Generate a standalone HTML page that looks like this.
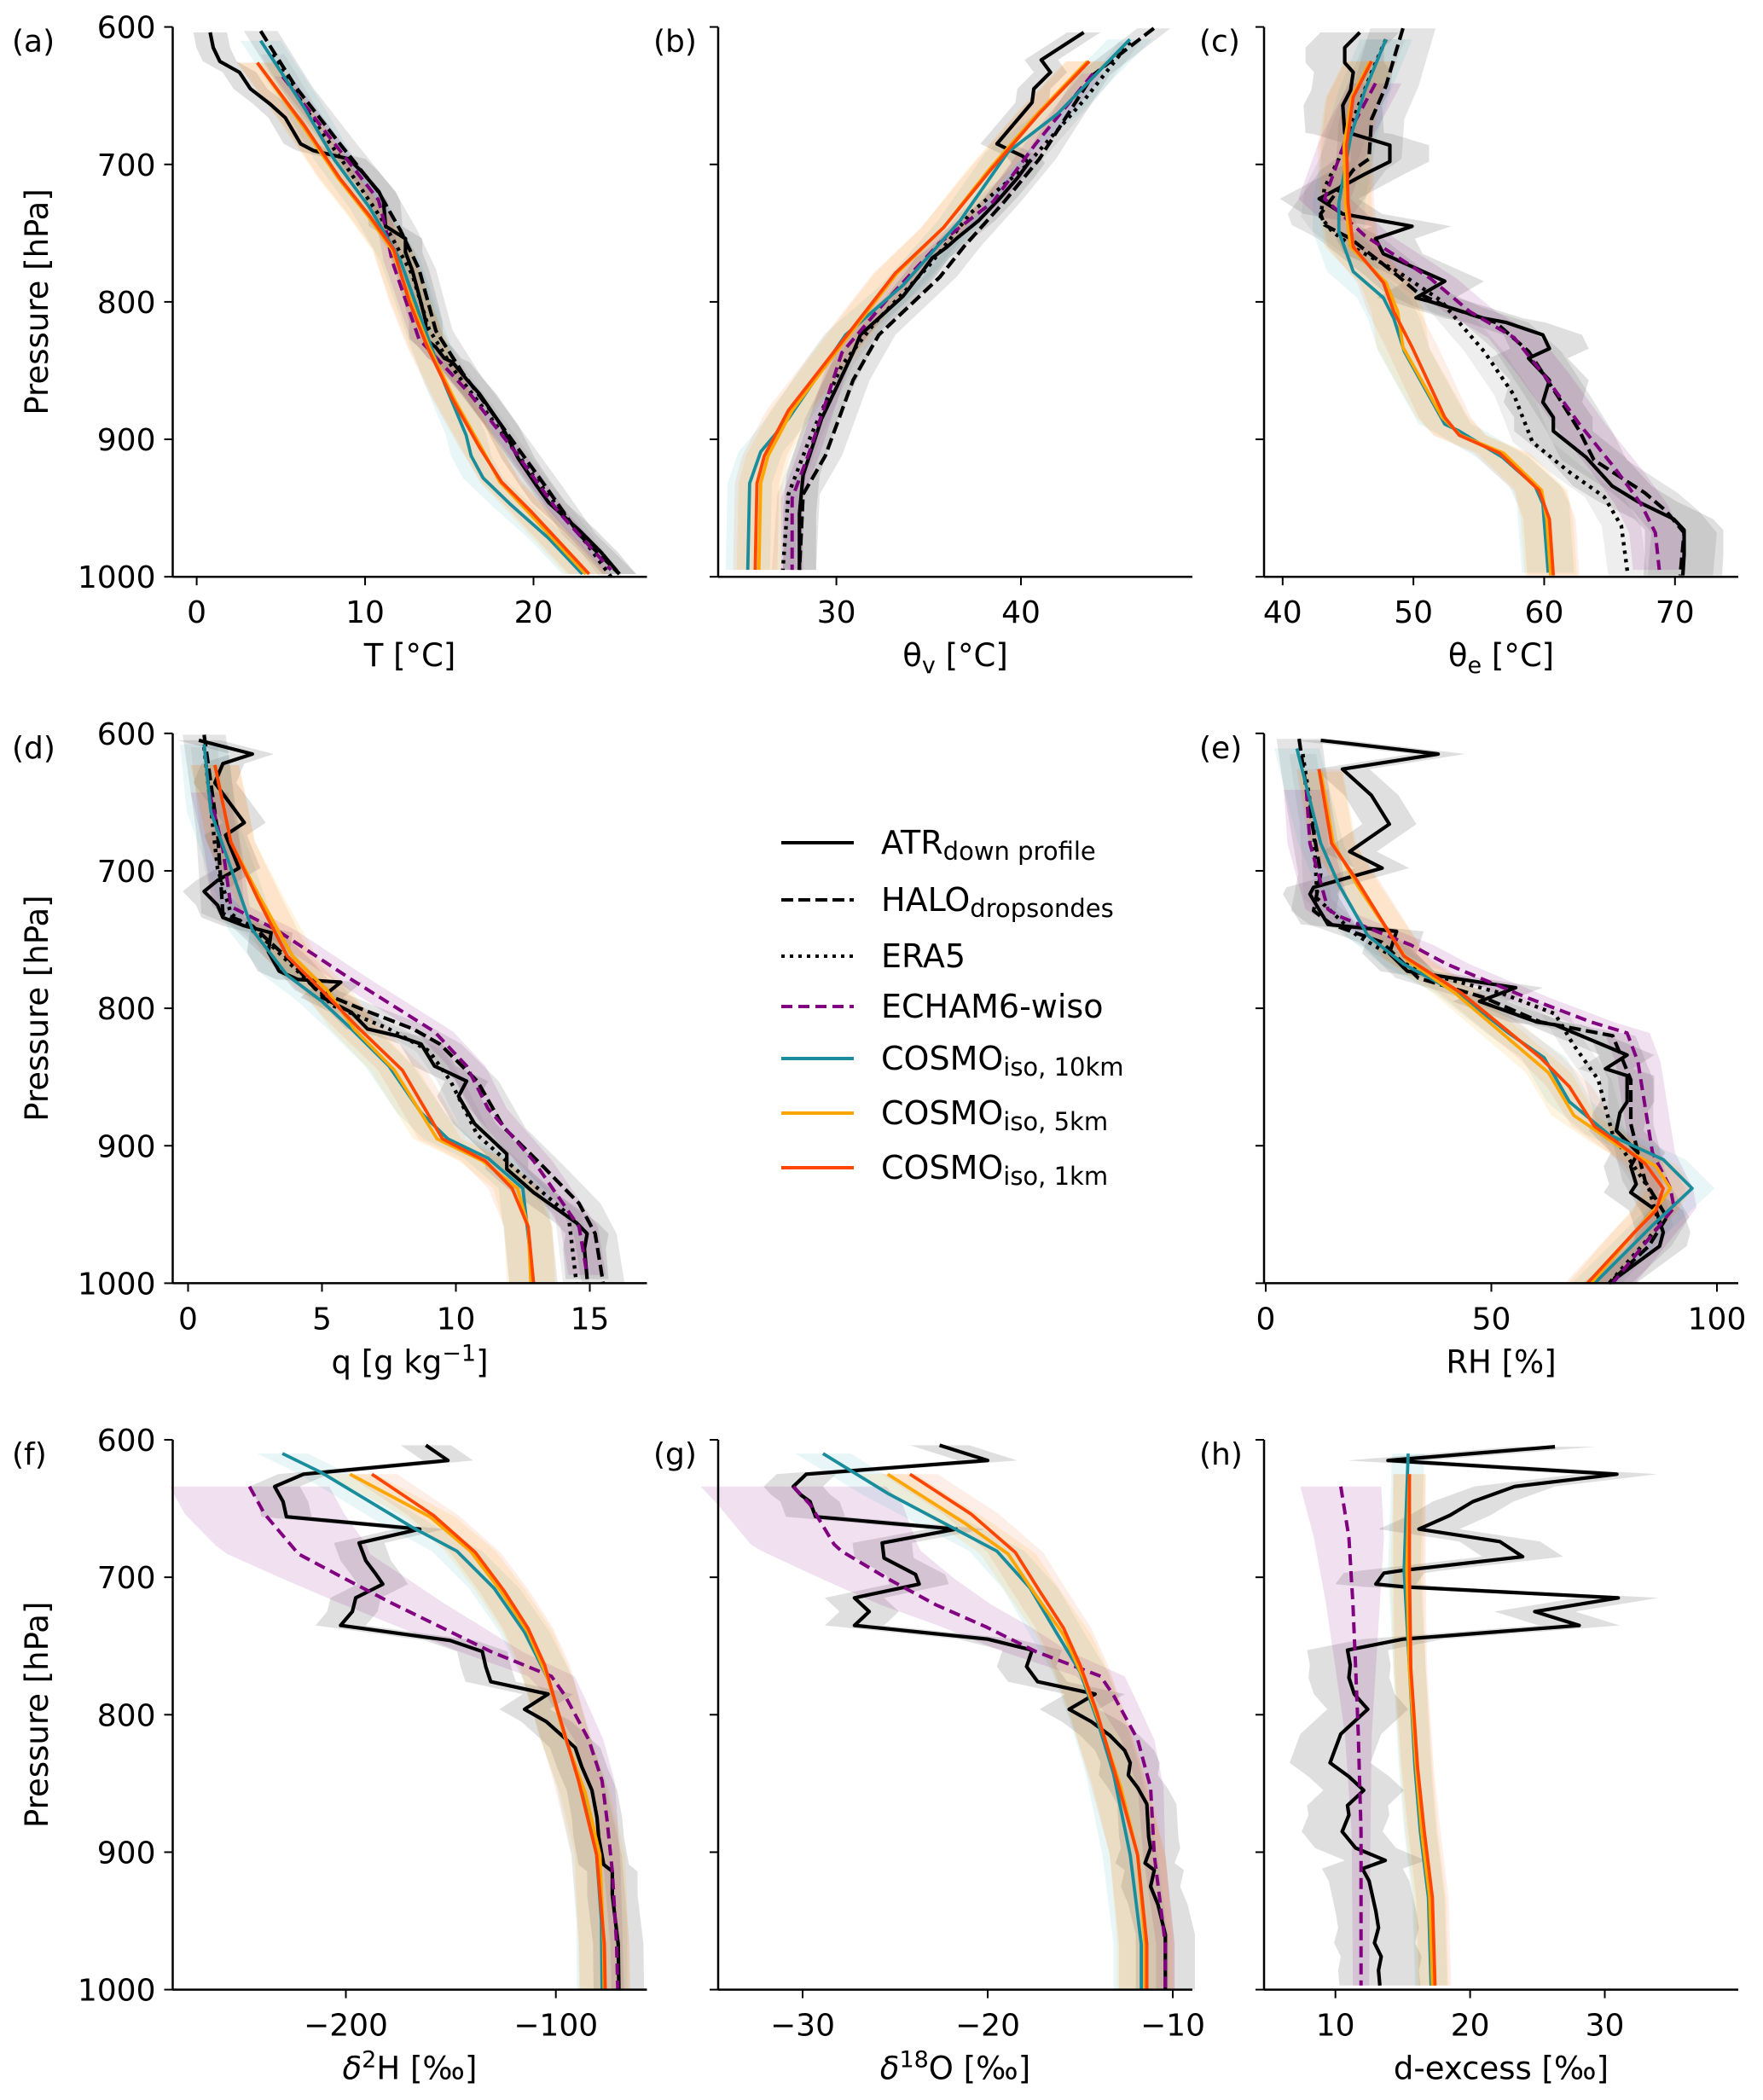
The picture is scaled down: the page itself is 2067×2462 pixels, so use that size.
<!DOCTYPE html>
<html><head><meta charset="utf-8"><style>
html,body{margin:0;padding:0;background:#fff;}
svg{display:block;font-family:"DejaVu Sans","Liberation Sans",sans-serif;}
</style></head><body>
<svg id="fig" xmlns="http://www.w3.org/2000/svg" width="2067" height="2462" viewBox="0 0 2067 2462">
<rect width="2067" height="2462" fill="#fff"/>
<g id="bands"></g>
<g id="lines"></g>
<g id="axes"></g>
<g id="legend">
 <line x1="916" y1="988" x2="1001" y2="988" stroke="#000" stroke-width="4"/>
 <text x="1033" y="1001" font-size="38">ATR<tspan font-size="29" dy="7">down profile</tspan></text>
 <line x1="916" y1="1055" x2="1001" y2="1055" stroke="#000" stroke-width="4" stroke-dasharray="14,6"/>
 <text x="1033" y="1068" font-size="38">HALO<tspan font-size="29" dy="7">dropsondes</tspan></text>
 <line x1="916" y1="1121" x2="1001" y2="1121" stroke="#000" stroke-width="4" stroke-dasharray="4,6"/>
 <text x="1033" y="1134" font-size="38">ERA5</text>
 <line x1="916" y1="1180" x2="1001" y2="1180" stroke="#800080" stroke-width="4" stroke-dasharray="13,7"/>
 <text x="1033" y="1193" font-size="38">ECHAM6-wiso</text>
 <line x1="916" y1="1241" x2="1001" y2="1241" stroke="#1a8d9c" stroke-width="4"/>
 <text x="1033" y="1254" font-size="38">COSMO<tspan font-size="29" dy="7">iso, 10km</tspan></text>
 <line x1="916" y1="1305" x2="1001" y2="1305" stroke="#ffa500" stroke-width="4"/>
 <text x="1033" y="1318" font-size="38">COSMO<tspan font-size="29" dy="7">iso, 5km</tspan></text>
 <line x1="916" y1="1369" x2="1001" y2="1369" stroke="#ff4500" stroke-width="4"/>
 <text x="1033" y="1382" font-size="38">COSMO<tspan font-size="29" dy="7">iso, 1km</tspan></text>
</g>
</svg>
<script>
// ---------- Panel (a) T ----------
const aAtrP=[604,615,625,633,645,656,666,685,690,696,705,720,727,745,754,764,777,795,814,827,833,841,844,856,867,890,914,934,946,966,982,998];
const aAtrV=[0.8,0.98,1.37,2.54,3.19,4.35,5.26,6.17,6.94,9.02,9.79,10.83,11.09,11.22,12.4,12.4,12.8,13.2,13.6,13.6,14.2,14.7,15.2,16.0,16.8,18.1,19.1,20.2,20.9,22.7,24.0,25.1];
const aHaloP=[603,644,685,720,748,776,821,852,890,934,969,998];
const aHaloV=[3.8,5.9,8.5,10.8,12.1,13.2,14.2,15.8,18.1,20.7,22.7,25.1];
const aEraP=[620,660,700,740,780,820,850,885,930,965,1000];
const aEraV=[4.5,6.5,8.8,11,12.8,13.8,15.3,17.5,20.2,22.5,24.6];
const aEchP=[636,682,726,745,770,827,868,909,953,995];
const aEchV=[5.1,8.0,10.8,11.2,11.6,13.2,16.3,18.9,21.5,24.6];
const aC10P=[610,659,697,732,770,808,859,897,912,928,947,972,998];
const aC10V=[3.8,6.4,8.2,10.3,12.1,13.2,14.7,16.0,16.3,17.0,18.6,20.9,22.9];
const aC5P=[626,672,710,738,762,799,833,871,906,931,953,998];
const aC5V=[3.6,6.3,8.4,10.2,11.6,12.7,13.8,15.3,16.9,18.0,19.7,23.1];
const aC1P=[626,672,710,738,762,799,833,871,906,931,953,998];
const aC1V=[3.6,6.4,8.5,10.3,11.7,12.6,13.7,15.2,16.8,18.1,19.9,23.3];
const aTicks=[0,10,20];
// ---------- Panel (b) theta_v ----------
const bAtrP=[604,624,633,645,655,685,689,694,699,710,724,741,754,760,768,779,796,807,824,837,854,885,926,954,995];
const bAtrV=[43.4,41.1,41.6,40.7,40.6,38.7,39.3,40.1,40.4,39.8,38.9,37.7,36.5,36.0,35.2,34.6,33.6,32.7,31.3,30.9,30.3,29.2,28.2,28.0,28.0];
const bHaloP=[601,635,696,727,760,782,824,857,912,940,995];
const bHaloV=[47.2,43.9,41.0,39.1,36.9,35.6,32.3,30.9,29.4,28.2,28.0];
const bEraP=[611,652,702,735,774,815,846,898,940,995];
const bEraV=[45.9,43.5,40.2,37.3,35.0,32.1,30.3,28.6,27.4,27.1];
const bEchP=[634,685,727,757,799,837,907,943,995];
const bEchV=[43.9,40.8,38.5,35.6,32.7,30.3,28.6,27.6,27.6];
const bC10P=[609,663,691,741,788,824,885,909,932,995];
const bC10V=[45.9,42.0,39.3,36.7,33.6,30.5,27.4,25.9,25.3,25.2];
const bC5P=[625,663,705,746,779,829,879,912,932,995];
const bC5V=[43.6,40.9,38.2,35.8,33.3,30.4,27.6,26.3,25.9,25.8];
const bC1P=[625,663,705,746,779,829,879,912,932,995];
const bC1V=[43.7,41.0,38.3,35.8,33.2,30.3,27.4,26.1,25.7,25.6];
const bTicks=[30,40];
// ---------- Panel (c) theta_e ----------
const cAtrP=[604,615,626,633,646,657,677,678,686,698,707,725,736,745,754,765,785,797,799,804,812,815,824,834,841,857,873,884,894,913,934,945,958,966,984,999];
const cAtrV=[45.9,44.75,44.75,45.4,45.2,44.6,44.75,45.4,48.2,48.2,46.3,42.8,44.6,49.9,47.1,47.7,52.4,50.2,51.0,52.7,55.4,57.1,59.9,60.4,58.8,60.4,59.9,60.7,60.7,63.2,65.2,67.1,69.9,70.7,70.7,70.6];
const cHaloP=[601,620,643,667,696,704,736,744,754,781,794,804,815,836,868,894,915,939,952,968,999];
const cHaloV=[49.2,48.6,47.9,46.8,46.6,45.4,42.9,43.2,45.2,48.8,50.4,52.7,56.3,58.8,61.0,62.7,63.8,67.7,69.3,70.7,70.4];
const cEraP=[609,633,667,696,717,738,749,762,778,799,815,836,868,902,923,942,963,999];
const cEraV=[47.9,46.8,45.4,44.3,43.2,42.9,43.8,45.7,48.8,52.1,53.5,55.4,57.7,59.1,61.8,64.6,65.9,66.4];
const cEchP=[641,680,725,752,783,807,826,852,889,921,947,968,995];
const cEchV=[47.1,44.9,43.2,46.3,51.3,54.3,57.7,59.9,62.7,65.4,67.4,68.5,68.8];
const cC10P=[609,646,680,728,749,778,797,812,836,889,894,913,934,947,997];
const cC10V=[47.9,46.3,45.2,44.3,44.3,45.4,47.7,48.5,49.3,52.4,53.5,56.8,59.3,59.9,60.3];
const cC5P=[625,651,686,728,760,786,807,833,884,897,910,937,958,999];
const cC5V=[46.7,45.3,44.7,44.8,45.2,47.9,48.8,49.2,52.2,53.6,56.9,59.8,60.2,60.5];
const cC1P=[625,651,686,728,760,786,807,833,884,897,910,937,958,999];
const cC1V=[46.8,45.4,44.9,45.0,45.4,47.7,48.5,49.9,52.4,53.5,56.6,59.6,60.4,60.7];
const cTicks=[40,50,60,70];
// ---------- Panel (d) q ----------
const dAtrP=[605,615,622,636,665,674,698,707,715,725,734,740,745,759,773,779,781,792,803,815,820,826,842,853,864,884,906,917,934,956,964,975,997];
const dAtrV=[0.4,2.4,1.3,1.0,2.1,1.4,1.9,1.1,0.6,1.1,1.3,2.1,3.1,3.0,3.4,4.1,5.7,5.0,6.1,6.7,7.8,8.7,9.2,10.4,10.1,10.7,11.9,11.9,12.9,14.5,14.9,14.8,14.9];
const dHaloP=[601,671,731,740,765,787,800,815,826,853,887,914,942,964,1000];
const dHaloV=[0.6,1.1,1.3,2.4,3.8,4.8,6.4,8.4,9.4,10.8,11.8,13.2,14.6,15.2,15.5];
const dEraP=[610,698,731,754,798,815,831,853,892,920,950,1000];
const dEraV=[0.6,1.1,1.6,3.1,5.4,7.5,9.0,9.8,10.8,12.4,14.2,14.5];
const dEchP=[643,684,726,743,779,817,842,873,911,959,994];
const dEchV=[0.8,1.3,1.6,3.3,6.1,9.2,10.4,11.2,12.9,14.6,14.9];
const dC10P=[608,657,698,743,776,795,815,842,876,895,909,931,1000];
const dC10V=[0.6,0.85,1.6,2.4,3.7,5.0,6.1,7.5,8.7,9.7,11.2,12.5,12.9];
const dC5P=[623,679,720,762,787,815,845,895,911,931,959,1000];
const dC5V=[1.0,1.6,2.7,3.9,5.2,6.2,7.7,9.3,11.0,12.3,12.7,12.8];
const dC1P=[623,679,720,762,787,815,845,895,911,931,959,1000];
const dC1V=[1.0,1.6,2.6,3.7,5.0,6.4,8.0,9.5,11.1,12.1,12.7,12.9];
const dTicks=[0,5,10,15];
// ---------- Panel (e) RH ----------
const eAtrP=[605,615,626,645,666,686,698,712,717,739,744,760,773,785,795,810,812,834,844,849,868,876,889,905,915,928,934,947,963,973,1000];
const eAtrV=[12.2,38.2,17,23.4,27.4,18.6,25.8,10.6,9.8,13.8,29,27.4,31.4,55.4,47.4,60.1,64.1,80.1,75.3,80.1,80.1,78.5,77.7,82.5,80.9,82.1,80.9,86.5,88.1,87.3,76.1];
const eHaloP=[604,641,702,729,739,752,778,792,810,820,852,884,926,952,973,1000];
const eHaloV=[7.4,9,12.2,10.6,14.6,25.8,33.8,48.2,60.9,76.9,80.9,80.9,84.1,88.9,84.9,76.1];
const eEraP=[615,667,720,747,773,789,804,826,852,892,931,958,1000];
const eEraV=[8.2,10.6,11.4,20.2,33.8,52.2,64.1,68.1,73.7,76.9,84.9,87.3,76.1];
const eEchP=[641,680,728,733,754,768,792,810,818,839,905,931,945,1000];
const eEchV=[9,9.8,13.8,16.2,32.2,40.2,57.7,72.1,80.1,82.5,85.7,89.7,90.5,76.9];
const eC10P=[611,680,710,747,768,789,818,836,868,892,910,931,958,1000];
const eC10V=[6.9,12.2,16.2,22.6,30.6,42.6,53.8,61.7,67.3,76.1,88.1,94.5,85.7,72.9];
const eC5P=[628,680,710,765,789,847,878,899,915,931,942,1000];
const eC5V=[12.2,15,20.2,31.4,42,62.7,68.3,77.7,86.5,89.7,87.3,72.1];
const eC1P=[626,680,707,762,789,836,857,886,899,913,931,947,963,1000];
const eC1V=[11.8,14.6,20.2,30.6,43.4,60.9,67.3,72.9,78.5,84.1,88.1,86.5,81.7,71.3];
const eTicks=[0,50,100];
// ---------- Panel (f) d2H ----------
const fAtrP=[604,615,625,634,645,656,665,675,688,698,705,715,725,735,746,754,765,776,785,796,805,816,824,838,855,875,889,909,914,931,967,1000];
const fAtrV=[-161.9,-151.4,-220.2,-233.9,-229.9,-228.3,-164.8,-193.7,-190.5,-185.6,-182.4,-195.3,-196.9,-202.5,-150.3,-135,-133.4,-131,-103.7,-114.9,-104.5,-96.5,-90.8,-87.6,-82.8,-80.4,-79.6,-77.2,-73.1,-73.1,-70.3,-70];
const fEchP=[634,654,677,683,700,718,736,754,772,786,818,848,877,914,967,1000];
const fEchV=[-245.9,-238.7,-225.9,-222.6,-201.7,-179.2,-155.1,-131,-102.1,-95.7,-84.4,-78,-75.6,-73.1,-71.1,-70.5];
const fEchS=[38,38,36,34,30,25,20,15,11,9,7,6,5,4,3,3];
const fC10P=[610,624,664,681,708,740,774,816,852,902,950,1000];
const fC10V=[-230.2,-211.4,-168,-147.1,-129.4,-114.9,-103.7,-95.7,-87.6,-80.6,-78.3,-78];
const fC5P=[625,656,681,710,740,774,816,857,902,967,1000];
const fC5V=[-198,-160,-140.7,-126.2,-113.3,-103.7,-95.7,-86,-79,-77.3,-77];
const fC1P=[625,655,682,710,737,764,798,848,902,967,1000];
const fC1V=[-187.6,-158.3,-138.3,-124.6,-113.3,-105.3,-98.9,-89.2,-80.6,-76.9,-76.5];
const fTicks=[-200,-100];
// ---------- Panel (g) d18O ----------
const gAtrP=[604,615,625,634,640,645,656,665,675,686,698,705,715,725,735,745,753,765,776,785,796,805,815,826,835,844,853,865,889,897,908,913,925,938,960,1000];
const gAtrV=[-22.6,-20.0,-29.8,-30.5,-30.1,-29.6,-29.3,-21.7,-25.7,-25.6,-23.9,-23.7,-27.2,-26.4,-27.2,-20.0,-17.6,-17.9,-17.3,-14.2,-15.6,-14.4,-13.4,-12.6,-12.3,-12.4,-11.9,-11.4,-11.3,-11.2,-11.5,-11.0,-11.2,-10.8,-10.4,-10.4];
const gEchP=[634,647,676,681,701,720,736,754,772,786,818,853,902,967,1000];
const gEchV=[-30.5,-29.6,-28.3,-27.9,-25.4,-22.8,-20.1,-17.4,-13.9,-13.2,-11.9,-11.2,-11.0,-10.4,-10.4];
const gEchS=[5,5,4.5,4.3,3.6,3,2.4,1.8,1.3,1.1,0.9,0.7,0.6,0.5,0.5];
const gC10P=[610,639,681,708,740,769,803,843,902,967,1000];
const gC10V=[-28.9,-25.4,-19.5,-17.7,-16.3,-15.0,-14.1,-13.2,-12.3,-11.7,-11.7];
const gC5P=[625,661,683,713,742,774,808,853,902,967,1000];
const gC5V=[-25.4,-21.2,-18.9,-17.4,-15.9,-14.8,-13.9,-12.8,-11.9,-11.5,-11.5];
const gC1P=[625,654,682,710,737,764,798,848,902,967,1000];
const gC1V=[-24.2,-20.9,-18.5,-17.2,-15.9,-15.0,-14.1,-13.0,-11.9,-11.4,-11.4];
const gTicks=[-30,-20,-10];
// ---------- Panel (h) d-excess ----------
const hAtrP=[605,615,625,634,645,655,665,674,685,695,697,705,707,715,725,735,745,753,764,773,785,796,814,835,845,855,866,873,885,897,906,912,921,943,955,966,976,986,997];
const hAtrV=[26.3,13.9,30.9,23.3,20.2,18.5,16.2,22.2,23.9,15.0,13.6,13.0,15.1,31.0,24.8,28.1,15.0,10.9,11.1,11.0,11.4,12.4,10.4,9.6,11.0,12.1,10.9,11.0,10.5,11.5,13.7,12.0,12.5,13.0,13.2,12.9,13.4,13.2,13.3];
const hEchP=[634,671,719,766,814,885,997];
const hEchV=[10.4,11.0,11.3,11.5,11.7,11.9,11.9];
const hEchS=[3,2.6,2,1.5,1,0.7,0.6];
const hC10P=[610,695,766,838,885,933,997];
const hC10V=[15.4,15.1,15.5,15.9,16.3,16.9,17.1];
const hC5P=[625,695,766,838,885,933,997];
const hC5V=[15.5,15.3,15.5,16.0,16.4,17.0,17.2];
const hC1P=[625,695,766,838,885,933,997];
const hC1V=[15.5,15.5,15.6,16.1,16.6,17.2,17.4];
const hTicks=[10,20,30];

const NS='http://www.w3.org/2000/svg';
const bandsG=document.getElementById('bands');
const linesG=document.getElementById('lines');
const axesG=document.getElementById('axes');
function mk(tag,attrs,parent){const e=document.createElementNS(NS,tag);for(const k in attrs)e.setAttribute(k,attrs[k]);parent.appendChild(e);return e;}

const STY={
 atr:{stroke:'#000000',w:4.2,dash:null,band:'rgba(120,120,120,0.24)'},
 halo:{stroke:'#000000',w:4.2,dash:'14,6',band:'rgba(120,120,120,0.2)'},
 era:{stroke:'#000000',w:4.4,dash:'4,6',band:'rgba(150,150,150,0.16)'},
 ech:{stroke:'#800080',w:4.0,dash:'13,7',band:'rgba(128,0,128,0.12)'},
 c10:{stroke:'#1a8d9c',w:3.8,dash:null,band:'rgba(40,170,190,0.10)'},
 c5:{stroke:'#ffa500',w:3.8,dash:null,band:'rgba(255,165,0,0.12)'},
 c1:{stroke:'#ff4500',w:3.8,dash:null,band:'rgba(240,90,20,0.10)'}
};
const ROW_TOP=[31.6,859.8,1688];
const COL_X=[[202.5,758.5],[842,1398],[1482,2038]];
const PH=644.6;

const PANELS=[
 {id:'a',row:0,col:0,v0:0,p0:230.6,v1:20,p1:625.5,ticks:aTicks,xl:'T [°C]',ylab:true,
  s:[['atr',aAtrP,aAtrV,1.0],['halo',aHaloP,aHaloV,1.0],['era',aEraP,aEraV,0.7],['ech',aEchP,aEchV,0.5],['c10',aC10P,aC10V,1.2],['c5',aC5P,aC5V,1.2],['c1',aC1P,aC1V,1.2]]},
 {id:'b',row:0,col:1,v0:30,p0:980.6,v1:40,p1:1197,ticks:bTicks,xl:'θ<tspan font-size="27" dy="8">v</tspan><tspan dy="-8"> [°C]</tspan>',ylab:false,
  s:[['atr',bAtrP,bAtrV,0.9],['halo',bHaloP,bHaloV,0.9],['era',bEraP,bEraV,0.6],['ech',bEchP,bEchV,0.6],['c10',bC10P,bC10V,1.2],['c5',bC5P,bC5V,1.2],['c1',bC1P,bC1V,1.2]]},
 {id:'c',row:0,col:2,v0:40,p0:1503.8,v1:70,p1:1963.8,ticks:cTicks,xl:'θ<tspan font-size="27" dy="8">e</tspan><tspan dy="-8"> [°C]</tspan>',ylab:false,
  s:[['atr',cAtrP,cAtrV,3],['halo',cHaloP,cHaloV,2.5],['era',cEraP,cEraV,1.5],['ech',cEchP,cEchV,2],['c10',cC10P,cC10V,2],['c5',cC5P,cC5V,2],['c1',cC1P,cC1V,2]]},
 {id:'d',row:1,col:0,v0:0,p0:220.5,v1:15,p1:691.5,ticks:dTicks,xl:'q [g kg<tspan font-size="27" dy="-14">−1</tspan><tspan dy="14">]</tspan>',ylab:true,
  s:[['atr',dAtrP,dAtrV,0.8],['halo',dHaloP,dHaloV,0.8],['era',dEraP,dEraV,0.5],['ech',dEchP,dEchV,0.7],['c10',dC10P,dC10V,0.9],['c5',dC5P,dC5V,0.9],['c1',dC1P,dC1V,0.9]]},
 {id:'e',row:1,col:2,v0:0,p0:1484,v1:100,p1:2013,ticks:eTicks,xl:'RH [%]',ylab:false,
  s:[['atr',eAtrP,eAtrV,6],['halo',eHaloP,eHaloV,5],['era',eEraP,eEraV,3],['ech',eEchP,eEchV,5],['c10',eC10P,eC10V,5],['c5',eC5P,eC5V,5],['c1',eC1P,eC1V,5]]},
 {id:'f',row:2,col:0,v0:-200,p0:405.5,v1:-100,p1:651.7,ticks:fTicks,xl:'<tspan font-style="italic">δ</tspan><tspan font-size="27" dy="-14">2</tspan><tspan dy="14">H [‰]</tspan>',ylab:true,
  s:[['atr',fAtrP,fAtrV,12],['ech',fEchP,fEchV,fEchS],['c10',fC10P,fC10V,12],['c5',fC5P,fC5V,12],['c1',fC1P,fC1V,12]]},
 {id:'g',row:2,col:1,v0:-30,p0:941,v1:-10,p1:1375,ticks:gTicks,xl:'<tspan font-style="italic">δ</tspan><tspan font-size="27" dy="-14">18</tspan><tspan dy="14">O [‰]</tspan>',ylab:false,
  s:[['atr',gAtrP,gAtrV,1.6],['ech',gEchP,gEchV,gEchS],['c10',gC10P,gC10V,1.5],['c5',gC5P,gC5V,1.5],['c1',gC1P,gC1V,1.5]]},
 {id:'h',row:2,col:2,v0:10,p0:1565.7,v1:30,p1:1881.5,ticks:hTicks,xl:'d-excess [‰]',ylab:false,
  s:[['atr',hAtrP,hAtrV,3],['ech',hEchP,hEchV,hEchS],['c10',hC10P,hC10V,1.2],['c5',hC5P,hC5V,1.2],['c1',hC1P,hC1V,1.2]]}
];

function fmt(v){return (v<0?'−':'')+Math.abs(v);}

PANELS.forEach(P=>{
 const x0=COL_X[P.col][0], x1=COL_X[P.col][1];
 const yt=ROW_TOP[P.row], yb=yt+PH;
 const X=v=>P.p0+(v-P.v0)*(P.p1-P.p0)/(P.v1-P.v0);
 const Y=p=>yt+(p-600)*PH/400;
 P.s.forEach(sr=>{
  const [key,ps,vs,sp]=sr;
  const st=STY[key];
  const left=[],right=[];
  ps.forEach((p,i)=>{const s=Array.isArray(sp)?sp[i]:sp;left.push(X(vs[i]-s).toFixed(1)+','+Y(p).toFixed(1));right.unshift(X(vs[i]+s).toFixed(1)+','+Y(p).toFixed(1));});
  const poly=mk('polygon',{points:left.concat(right).join(' '),fill:st.band,stroke:'none'},bandsG);
  
  
 });
 P.s.forEach(sr=>{
  const [key,ps,vs]=sr;
  const st=STY[key];
  const pts=ps.map((p,i)=>X(vs[i]).toFixed(1)+','+Y(p).toFixed(1)).join(' ');
  const a={points:pts,fill:'none',stroke:st.stroke,'stroke-width':st.w,'stroke-linejoin':'round'};
  if(st.dash)a['stroke-dasharray']=st.dash;
  const pl=mk('polyline',a,linesG);
  
  
 });
 const g=mk('g',{},axesG);
 
 
 const ls=mk('line',{x1:x0,y1:yt,x2:x0,y2:yb,stroke:'#000','stroke-width':2.5},g);
 
 
 const bs=mk('line',{x1:x0,y1:yb,x2:x1,y2:yb,stroke:'#000','stroke-width':2.5},g);
 
 
 [600,700,800,900,1000].forEach(p=>{
  const tk=mk('line',{x1:x0-10,y1:Y(p),x2:x0,y2:Y(p),stroke:'#000','stroke-width':2},g);
  
  
  if(P.ylab){
   const t=mk('text',{x:x0-20,y:Y(p)+13,'font-size':36,'text-anchor':'end'},g);
   t.textContent=String(p);
   
   
  }
 });
 P.ticks.forEach(v=>{
  const tx=X(v);
  const tk=mk('line',{x1:tx,y1:yb,x2:tx,y2:yb+10,stroke:'#000','stroke-width':2},g);
  
  
  const t=mk('text',{x:tx,y:yb+54,'font-size':36,'text-anchor':'middle'},g);
  t.textContent=fmt(v);
  
  
 });
 const xl=mk('text',{x:(x0+x1)/2,y:yb+105,'font-size':37,'text-anchor':'middle'},g);
 xl.innerHTML=P.xl;
 
 
 if(P.ylab){
  const yl=mk('text',{x:0,y:0,'font-size':37,'text-anchor':'middle',transform:'translate(56,'+((yt+yb)/2)+') rotate(-90)'},g);
  yl.textContent='Pressure [hPa]';
  
  
 }
 const lx = P.col===0 ? 14 : x0-76;
 const lab=mk('text',{x:lx,y:yt+29,'font-size':36},g);
 lab.textContent='('+P.id+')';
 
 
});
</script>
</body></html>
